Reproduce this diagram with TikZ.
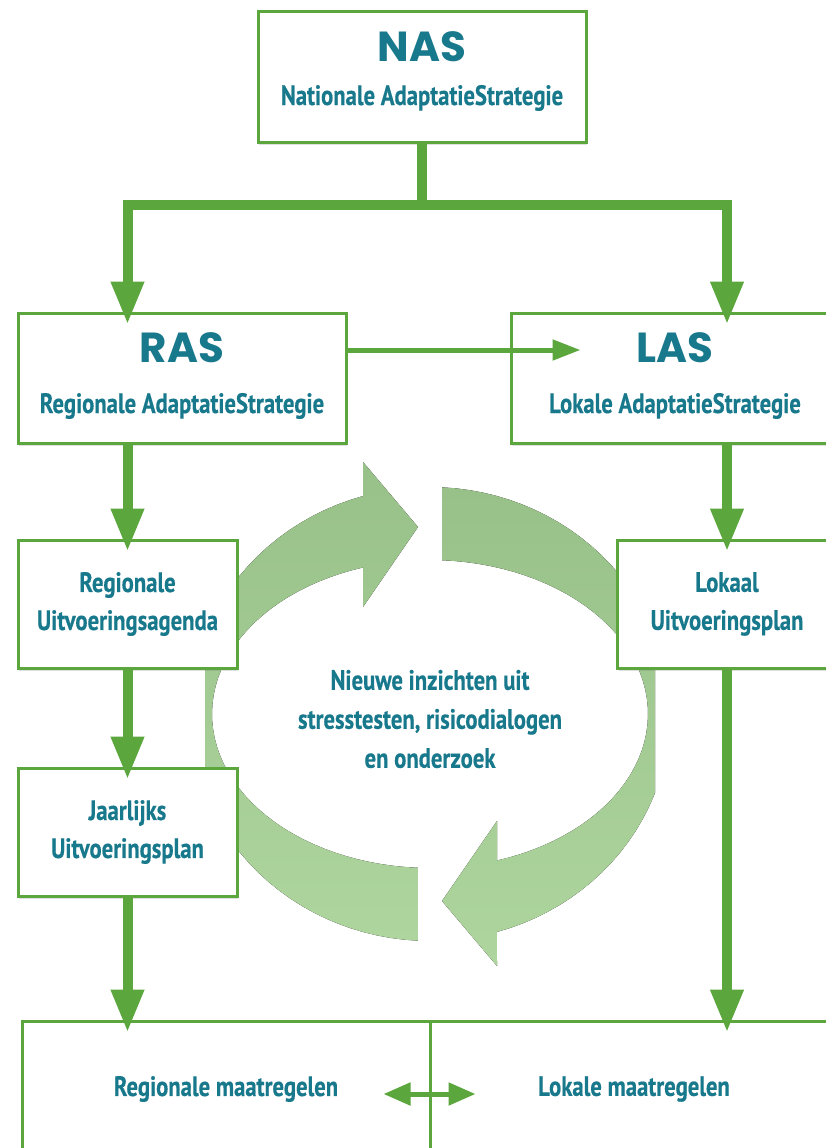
\documentclass[tikz,border=0pt]{standalone}
\usepackage{fontspec}
\newfontfamily\condfont{PT Sans}[FakeStretch=0.81,BoldFeatures={FakeBold=0.4}]
\newfontfamily\titlefont{Poppins}
\usetikzlibrary{arrows.meta,shadows}
\definecolor{lineGreen}{HTML}{5BA63D}
\definecolor{textTeal}{HTML}{18788C}
\definecolor{ringTop}{HTML}{98C089}
\definecolor{ringBottom}{HTML}{ADD59D}
\tikzset{
  stratbox/.style={
    draw=lineGreen,line width=3pt,fill=white,inner sep=0pt,
    minimum width=328pt,minimum height=130pt,
    drop shadow={shadow xshift=1pt,shadow yshift=-3pt,opacity=.25},
  },
  planbox/.style={
    stratbox,minimum width=219pt,minimum height=128pt,align=center,
    text=textTeal,font=\condfont\bfseries\fontsize{28}{38}\selectfont,
  },
  maatbox/.style={
    stratbox,minimum width=408pt,minimum height=136pt,
    text=textTeal,font=\condfont\bfseries\fontsize{28}{30}\selectfont,
  },
  acronym/.style={
    anchor=base,inner sep=0pt,text=textTeal,
    font=\titlefont\bfseries\fontsize{42}{42}\selectfont,
  },
  fullname/.style={
    anchor=base,inner sep=0pt,text=textTeal,
    font=\condfont\bfseries\fontsize{28}{30}\selectfont,
  },
  insight/.style={
    align=center,inner sep=0pt,text=textTeal,
    font=\condfont\bfseries\fontsize{28}{39}\selectfont,
  },
  flow/.style={
    draw=lineGreen,line width=10pt,shorten >=-13pt,
    -{Triangle[length=43pt,width=31pt]},
  },
  trunk/.style={draw=lineGreen,line width=10pt},
  sideflow/.style={
    draw=lineGreen,line width=5pt,
    -{Triangle[length=28pt,width=20pt]},
  },
  ring/.style={top color=ringTop,bottom color=ringBottom,draw=none},
}

\begin{document}
\begin{tikzpicture}[x=1pt,y=-1pt]
   \clip (0,0) rectangle (826,1148);

   % CYCLE ARROWS
   \begin{scope}
   \clip (205,440) rectangle (655,990);
   \fill[ring] plot[domain=92.87:253.8,samples=50,variable=\t]
        ({430+240*cos(\t)},{714+227*sin(\t)})
     -- (363,462) -- (418,527) -- (363,607)
     -- plot[domain=252.1:93.16,samples=50,variable=\t]
        ({430+218*cos(\t)},{714+154*sin(\t)}) -- cycle;
   \fill[ring] plot[domain=272.87:433.8,samples=50,variable=\t]
        ({430+240*cos(\t)},{714+227*sin(\t)})
     -- (497,966) -- (442,901) -- (497,821)
     -- plot[domain=432.1:273.16,samples=50,variable=\t]
        ({430+218*cos(\t)},{714+154*sin(\t)}) -- cycle;
   \end{scope}
   \node[insight] (inzicht) at (430,719) {Nieuwe inzichten uit\\stresstesten, risicodialogen\\en onderzoek};

   % NODES
   \node[stratbox] (nas) at (422,77) {}; % national
   \node[acronym] (nasTitle) at (422,62) {NAS};
   \node[fullname] (nasName) at (422,105) {Nationale AdaptatieStrategie};

   \node[stratbox] (ras) at (182,378) {}; % regional
   \node[acronym] (rasTitle) at (182,362) {RAS};
   \node[fullname] (rasName) at (182,413) {Regionale AdaptatieStrategie};

   \node[stratbox] (las) at (675,378) {}; % local
   \node[acronym] (lasTitle) at (675,362) {LAS};
   \node[fullname] (lasName) at (675,413) {Lokale AdaptatieStrategie};

   \node[planbox] (agenda) at (127.5,604) {Regionale\\Uitvoeringsagenda};
   \node[planbox] (lokaal) at (727,604) {Lokaal\\Uitvoeringsplan};
   \node[planbox] (jaar) at (127.5,832) {Jaarlijks\\Uitvoeringsplan};

   \node[maatbox] (regmaat) at (226,1089) {Regionale maatregelen};
   \node[maatbox] (lokmaat) at (634,1089) {Lokale maatregelen};

   % CONNECTORS
   \coordinate (split) at ([yshift=-61pt]nas.south);
   \path[trunk] (nas.south) -- (split);
   \path[flow] (split) -| (ras.north -| agenda.north);
   \path[flow] (split) -| (las.north -| lokaal.north);
   \path[sideflow,shorten >=-71pt] ([yshift=28pt]ras.east) -- ([yshift=28pt]las.west);
   \path[flow] (ras.south -| agenda.north) -- (agenda.north);
   \path[flow] (las.south -| lokaal.north) -- (lokaal.north);
   \path[flow] (agenda.south) -- (jaar.north);
   \path[flow] (jaar.south) -- (regmaat.north -| jaar.south);
   \path[flow] (lokaal.south) -- (lokmaat.north -| lokaal.south);
   \path[sideflow,{Triangle[length=27pt,width=22pt]}-{Triangle[length=27pt,width=22pt]}]
     ([shift={(-48,5)}]regmaat.east) -- ([shift={(47,5)}]lokmaat.west);

\end{tikzpicture}
\end{document}
